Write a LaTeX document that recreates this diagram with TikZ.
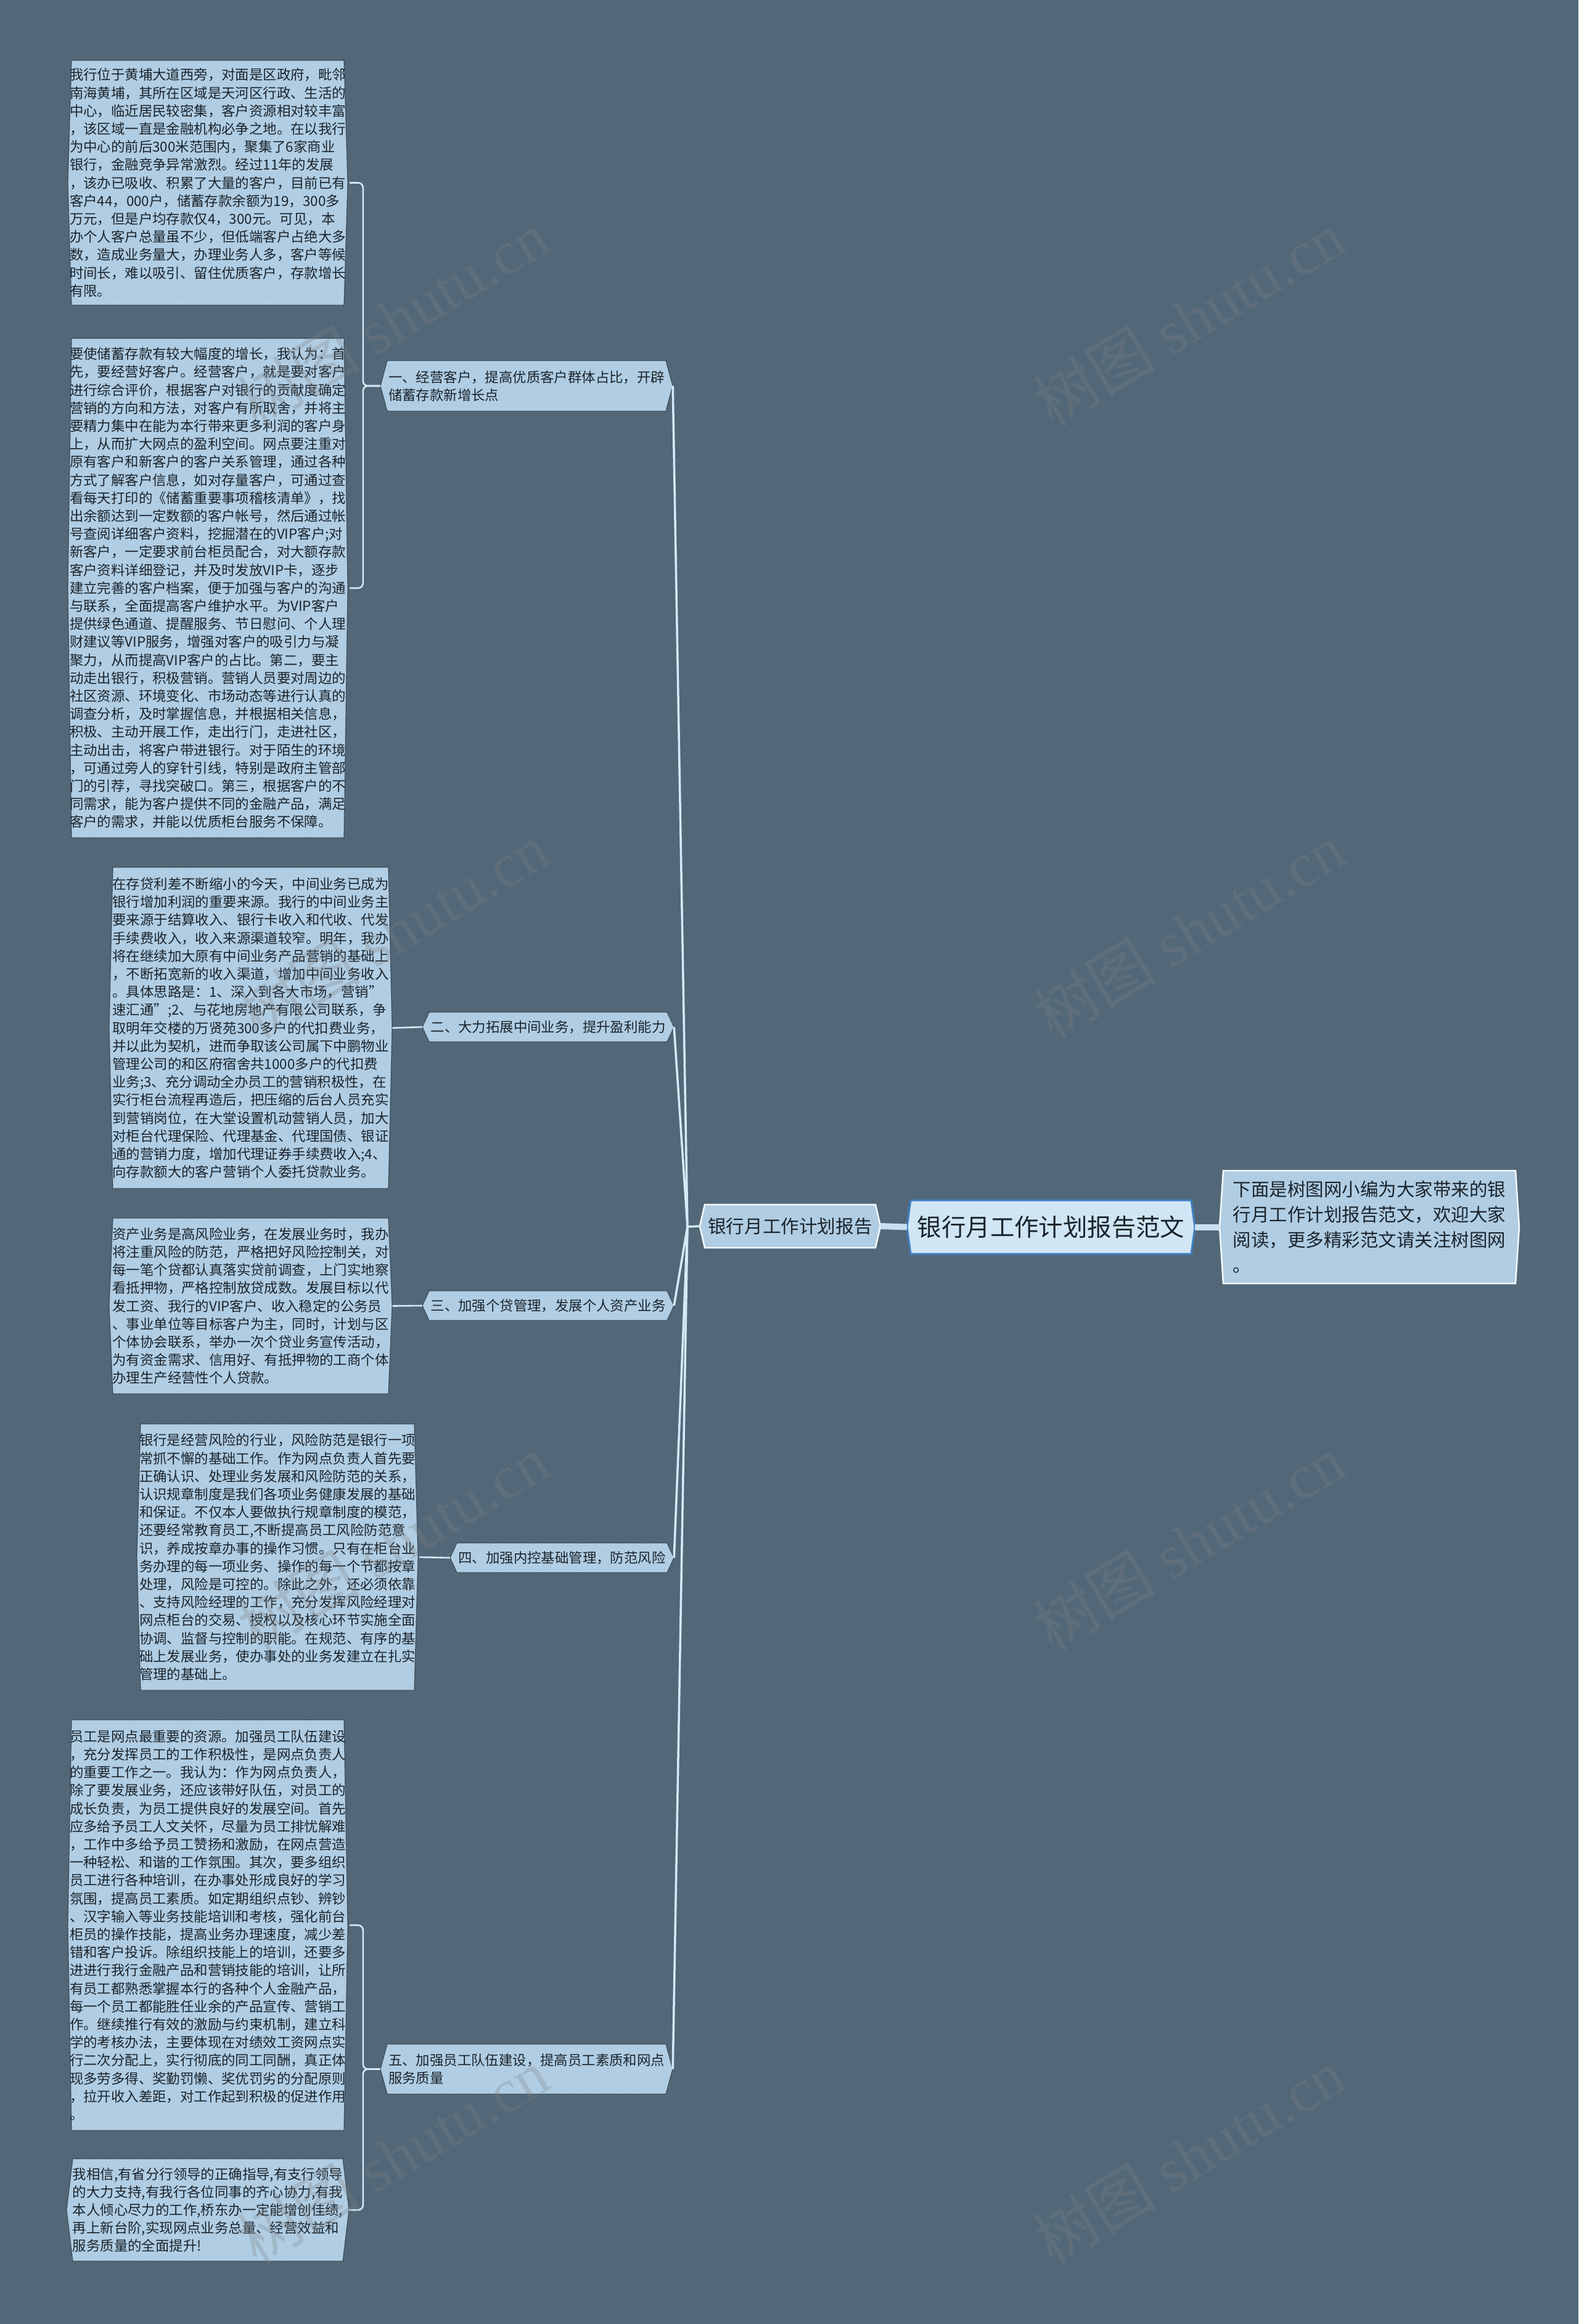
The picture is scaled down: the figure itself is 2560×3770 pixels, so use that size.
\documentclass[tikz,border=0pt]{standalone}
\usepackage{fontspec}
\setmainfont{Noto Sans CJK SC}
\newfontfamily\cjk{Noto Sans CJK SC}
\newfontfamily\wmfont{Liberation Serif}
\usetikzlibrary{calc}
\definecolor{bgc}{HTML}{526878}
\definecolor{boxc}{HTML}{B0CDE3}
\definecolor{rootc}{HTML}{D0E6F4}
\definecolor{rootb}{HTML}{3E7FC1}
\definecolor{txtc}{HTML}{1B242C}
\definecolor{linec}{HTML}{D4EAF7}
\definecolor{bandc}{HTML}{C8E0F0}
\definecolor{dotc}{HTML}{1E2730}
\newcommand\hexnode[9]{%
  \path[#7] (#2,#4) -- (#3,#4) -- ({#3+#6},{(#4+#5)/2}) -- (#3,#5) -- (#2,#5) -- ({#2-#6},{(#4+#5)/2}) -- cycle;
  \node[inner sep=0pt, minimum width={#3-#2}, minimum height={#5-#4}, text=txtc, align=left, #8] (#1) at ({(#2+#3)/2},{(#4+#5)/2}) {#9};
}
\tikzset{
  dotbox/.style={fill=boxc, draw=dotc, densely dotted, line width=1.3pt},
  rootbox/.style={fill=rootc, draw=rootb, line width=3pt},
  litebox/.style={fill=boxc, draw=white!85!boxc, line width=2.5pt},
  band/.style={draw=bandc, line width=10pt},
  brline/.style={draw=linec, line width=3.5pt},
  leafline/.style={draw=linec, line width=2.6pt, rounded corners=8pt},
  wm/.style={text=gray, opacity=0.28, rotate=31, font=\wmfont\fontsize{100}{110}\selectfont},
  bodyf/.style={font=\fontsize{22.4}{29.2}\selectfont}
}
\begin{document}
\begin{tikzpicture}[x=1pt,y=-1pt]
\useasboundingbox (0,0) rectangle (2560,3770);
\fill[bgc] (0,0) rectangle (2560,3770);

% central nodes
\hexnode{root}{1477}{1932}{1947}{2034}{6}{rootbox}{font=\fontsize{39.4}{46}\selectfont}{银行月工作计划报告范文}
\hexnode{main}{1143}{1420}{1954}{2024}{8}{litebox}{font=\fontsize{29.6}{36}\selectfont}{银行月工作计划报告}
\hexnode{desc}{1984}{2458}{1899}{2082}{6}{litebox}{font=\fontsize{29.5}{41}\selectfont}{下面是树图网小编为大家带来的银\\行月工作计划报告范文，欢迎大家\\阅读，更多精彩范文请关注树图网\\。}

% branches
\hexnode{b1}{628}{1080}{585}{667}{11}{dotbox}{bodyf}{一、经营客户，提高优质客户群体占比，开辟\\储蓄存款新增长点}
\hexnode{b2}{696}{1082}{1642}{1690}{11}{dotbox}{bodyf}{二、大力拓展中间业务，提升盈利能力}
\hexnode{b3}{696}{1082}{2094}{2142}{11}{dotbox}{bodyf}{三、加强个贷管理，发展个人资产业务}
\hexnode{b4}{741}{1082}{2503}{2551}{11}{dotbox}{bodyf}{四、加强内控基础管理，防范风险}
\hexnode{b5}{628}{1080}{3316}{3397}{11}{dotbox}{bodyf}{五、加强员工队伍建设，提高员工素质和网点\\服务质量}

% leaves
\hexnode{l1}{116}{558}{98}{495}{6}{dotbox}{bodyf}{%
我行位于黄埔大道西旁，对面是区政府，毗邻\\
南海黄埔，其所在区域是天河区行政、生活的\\
中心，临近居民较密集，客户资源相对较丰富\\
，该区域一直是金融机构必争之地。在以我行\\
为中心的前后300米范围内，聚集了6家商业\\
银行，金融竞争异常激烈。经过11年的发展\\
，该办已吸收、积累了大量的客户，目前已有\\
客户44，000户，储蓄存款余额为19，300多\\
万元，但是户均存款仅4，300元。可见，本\\
办个人客户总量虽不少，但低端客户占绝大多\\
数，造成业务量大，办理业务人多，客户等候\\
时间长，难以吸引、留住优质客户，存款增长\\
有限。}

\hexnode{l2}{116}{558}{549}{1359}{6}{dotbox}{bodyf}{%
要使储蓄存款有较大幅度的增长，我认为：首\\
先，要经营好客户。经营客户，就是要对客户\\
进行综合评价，根据客户对银行的贡献度确定\\
营销的方向和方法，对客户有所取舍，并将主\\
要精力集中在能为本行带来更多利润的客户身\\
上，从而扩大网点的盈利空间。网点要注重对\\
原有客户和新客户的客户关系管理，通过各种\\
方式了解客户信息，如对存量客户，可通过查\\
看每天打印的《储蓄重要事项稽核清单》，找\\
出余额达到一定数额的客户帐号，然后通过帐\\
号查阅详细客户资料，挖掘潜在的VIP客户;对\\
新客户，一定要求前台柜员配合，对大额存款\\
客户资料详细登记，并及时发放VIP卡，逐步\\
建立完善的客户档案，便于加强与客户的沟通\\
与联系，全面提高客户维护水平。为VIP客户\\
提供绿色通道、提醒服务、节日慰问、个人理\\
财建议等VIP服务，增强对客户的吸引力与凝\\
聚力，从而提高VIP客户的占比。第二，要主\\
动走出银行，积极营销。营销人员要对周边的\\
社区资源、环境变化、市场动态等进行认真的\\
调查分析，及时掌握信息，并根据相关信息，\\
积极、主动开展工作，走出行门，走进社区，\\
主动出击，将客户带进银行。对于陌生的环境\\
，可通过旁人的穿针引线，特别是政府主管部\\
门的引荐，寻找突破口。第三，根据客户的不\\
同需求，能为客户提供不同的金融产品，满足\\
客户的需求，并能以优质柜台服务不保障。}

\hexnode{l3}{183}{630}{1407}{1928}{6}{dotbox}{bodyf}{%
在存贷利差不断缩小的今天，中间业务已成为\\
银行增加利润的重要来源。我行的中间业务主\\
要来源于结算收入、银行卡收入和代收、代发\\
手续费收入，收入来源渠道较窄。明年，我办\\
将在继续加大原有中间业务产品营销的基础上\\
，不断拓宽新的收入渠道，增加中间业务收入\\
。具体思路是：1、深入到各大市场，营销"\\
速汇通";2、与花地房地产有限公司联系，争\\
取明年交楼的万贤苑300多户的代扣费业务，\\
并以此为契机，进而争取该公司属下中鹏物业\\
管理公司的和区府宿舍共1000多户的代扣费\\
业务;3、充分调动全办员工的营销积极性，在\\
实行柜台流程再造后，把压缩的后台人员充实\\
到营销岗位，在大堂设置机动营销人员，加大\\
对柜台代理保险、代理基金、代理国债、银证\\
通的营销力度，增加代理证券手续费收入;4、\\
向存款额大的客户营销个人委托贷款业务。}

\hexnode{l4}{183}{630}{1976}{2261}{6}{dotbox}{bodyf}{%
资产业务是高风险业务，在发展业务时，我办\\
将注重风险的防范，严格把好风险控制关，对\\
每一笔个贷都认真落实贷前调查，上门实地察\\
看抵押物，严格控制放贷成数。发展目标以代\\
发工资、我行的VIP客户、收入稳定的公务员\\
、事业单位等目标客户为主，同时，计划与区\\
个体协会联系，举办一次个贷业务宣传活动，\\
为有资金需求、信用好、有抵押物的工商个体\\
办理生产经营性个人贷款。}

\hexnode{l5}{228}{672}{2310}{2742}{6}{dotbox}{bodyf}{%
银行是经营风险的行业，风险防范是银行一项\\
常抓不懈的基础工作。作为网点负责人首先要\\
正确认识、处理业务发展和风险防范的关系，\\
认识规章制度是我们各项业务健康发展的基础\\
和保证。不仅本人要做执行规章制度的模范，\\
还要经常教育员工,不断提高员工风险防范意\\
识，养成按章办事的操作习惯。只有在柜台业\\
务办理的每一项业务、操作的每一个节都按章\\
处理，风险是可控的。除此之外，还必须依靠\\
、支持风险经理的工作，充分发挥风险经理对\\
网点柜台的交易、授权以及核心环节实施全面\\
协调、监督与控制的职能。在规范、有序的基\\
础上发展业务，使办事处的业务发建立在扎实\\
管理的基础上。}

\hexnode{l6}{116}{558}{2790}{3456}{6}{dotbox}{bodyf}{%
员工是网点最重要的资源。加强员工队伍建设\\
，充分发挥员工的工作积极性，是网点负责人\\
的重要工作之一。我认为：作为网点负责人，\\
除了要发展业务，还应该带好队伍，对员工的\\
成长负责，为员工提供良好的发展空间。首先\\
应多给予员工人文关怀，尽量为员工排忧解难\\
，工作中多给予员工赞扬和激励，在网点营造\\
一种轻松、和谐的工作氛围。其次，要多组织\\
员工进行各种培训，在办事处形成良好的学习\\
氛围，提高员工素质。如定期组织点钞、辨钞\\
、汉字输入等业务技能培训和考核，强化前台\\
柜员的操作技能，提高业务办理速度，减少差\\
错和客户投诉。除组织技能上的培训，还要多\\
进进行我行金融产品和营销技能的培训，让所\\
有员工都熟悉掌握本行的各种个人金融产品，\\
每一个员工都能胜任业余的产品宣传、营销工\\
作。继续推行有效的激励与约束机制，建立科\\
学的考核办法，主要体现在对绩效工资网点实\\
行二次分配上，实行彻底的同工同酬，真正体\\
现多劳多得、奖勤罚懒、奖优罚劣的分配原则\\
，拉开收入差距，对工作起到积极的促进作用\\
。}

\hexnode{l7}{118}{556}{3502}{3668}{10}{dotbox}{bodyf}{%
我相信,有省分行领导的正确指导,有支行领导\\
的大力支持,有我行各位同事的齐心协力,有我\\
本人倾心尽力的工作,桥东办一定能增创佳绩,\\
再上新台阶,实现网点业务总量、经营效益和\\
服务质量的全面提升!}

% connectors
\coordinate (J) at (1115,1990);
\draw[band] ([xshift=8]main.east) -- ([xshift=-6]root.west);
\draw[band] ([xshift=6]root.east) -- ([xshift=-6]desc.west);
\draw[brline] ([xshift=-8]main.west) -- (J);
\draw[brline] (J) -- ([xshift=11]b1.east);
\draw[brline] (J) -- ([xshift=11]b2.east);
\draw[brline] (J) -- ([xshift=11]b3.east);
\draw[brline] (J) -- ([xshift=11]b4.east);
\draw[brline] (J) -- ([xshift=11]b5.east);
\draw[leafline] ([xshift=-11]b1.west) -- ++(-28,0) |- ([xshift=6]l1.east);
\draw[leafline] ([xshift=-11]b1.west) -- ++(-28,0) |- ([xshift=6]l2.east);
\draw[leafline] ([xshift=-11]b2.west) -- ([xshift=6]l3.east);
\draw[leafline] ([xshift=-11]b3.west) -- ([xshift=6]l4.east);
\draw[leafline] ([xshift=-11]b4.west) -- ([xshift=6]l5.east);
\draw[leafline] ([xshift=-11]b5.west) -- ++(-28,0) |- ([xshift=6]l6.east);
\draw[leafline] ([xshift=-11]b5.west) -- ++(-28,0) |- ([xshift=10]l7.east);

% watermarks
\node[wm] (wm1) at (637,517) {{\cjk 树图} shutu.cn};
\node[wm] (wm2) at (1928,517) {{\cjk 树图} shutu.cn};
\node[wm] (wm3) at (637,1510) {{\cjk 树图} shutu.cn};
\node[wm] (wm4) at (1928,1510) {{\cjk 树图} shutu.cn};
\node[wm] (wm5) at (637,2503) {{\cjk 树图} shutu.cn};
\node[wm] (wm6) at (1928,2503) {{\cjk 树图} shutu.cn};
\node[wm] (wm7) at (637,3498) {{\cjk 树图} shutu.cn};
\node[wm] (wm8) at (1928,3498) {{\cjk 树图} shutu.cn};
\end{tikzpicture}
\end{document}
